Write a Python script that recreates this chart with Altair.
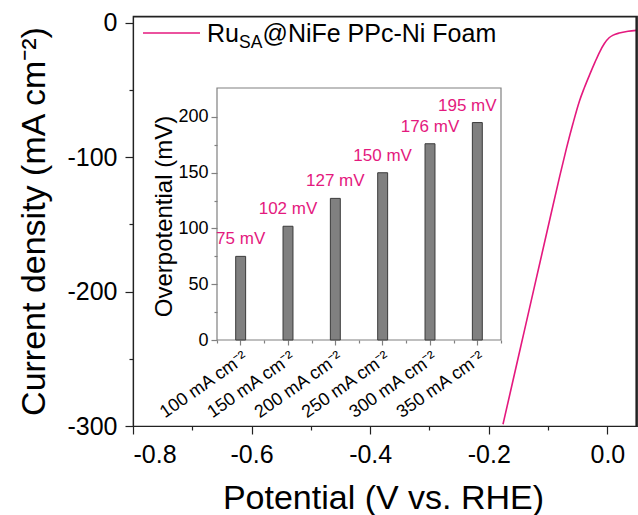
import altair as alt
import pandas as pd

FONT = "Liberation Sans"
PINK = "#E4197E"
DARK = "#222222"
GREY = "#808080"

# Polarisation curve (LSV) of the electrode
potential = [0.049, 0.035, 0.020, 0.010, 0.003, -0.005, -0.013, -0.021, -0.030,
             -0.039, -0.047, -0.058, -0.069, -0.080, -0.100, -0.120, -0.140,
             -0.160, -0.176]
current = [-5.7, -6.4, -7.7, -9.2, -11.2, -15.5, -21.8, -29.5, -38.8,
           -48.6, -58.2, -75.0, -93.5, -113.6, -152.0, -190.6, -229.2,
           -267.8, -298.7]

# Inset: overpotential needed at each current density
densities = ["100 mA cm⁻²", "150 mA cm⁻²", "200 mA cm⁻²",
             "250 mA cm⁻²", "300 mA cm⁻²", "350 mA cm⁻²"]
overpotentials = [75, 102, 127, 150, 176, 195]

curve_df = pd.DataFrame({"V": potential, "J": current})
bar_df = pd.DataFrame({"density": densities, "eta": overpotentials,
                       "idx": list(range(len(densities)))})
one = alt.Data(values=[{}])

# ---- main axes -------------------------------------------------------------
x_main = alt.Scale(domain=[-0.8, 0.05], nice=False, zero=False)
y_main = alt.Scale(domain=[-300, 5], nice=False, zero=False)

line = alt.Chart(curve_df).mark_line(
    color=PINK, strokeWidth=1.6, interpolate="monotone"
).encode(
    x=alt.X("V:Q", scale=x_main, axis=alt.Axis(
        orient="bottom", values=[-0.8, -0.6, -0.4, -0.2, 0.0],
        labelExpr="datum.value == 0 ? '0.0' : '' + datum.value",
        tickSize=8, labelFontSize=25, labelPadding=8, grid=False,
        domainColor=DARK, tickColor=DARK,
        title="Potential (V vs. RHE)", titleFontSize=34,
        titleX=250, titleY=82, titleBaseline="alphabetic")),
    y=alt.Y("J:Q", scale=y_main, axis=alt.Axis(
        orient="left", values=[0, -100, -200, -300],
        labelExpr="'' + datum.value",
        tickSize=8, labelFontSize=25, labelPadding=8, grid=False,
        domainColor=DARK, tickColor=DARK,
        title="Current density (mA cm⁻²)", titleFontSize=34,
        titleAngle=270, titleX=-89, titleY=205, titleBaseline="alphabetic")),
)

minor_main = alt.Chart(curve_df).mark_line(opacity=0).encode(
    x=alt.X("V:Q", scale=x_main, axis=alt.Axis(
        orient="bottom", values=[-0.7, -0.5, -0.3, -0.1], tickSize=4,
        labels=False, domain=False, grid=False, tickColor=DARK, title=None)),
    y=alt.Y("J:Q", scale=y_main, axis=alt.Axis(
        orient="left", values=[-50, -150, -250], tickSize=4,
        labels=False, domain=False, grid=False, tickColor=DARK, title=None)),
)

# top and right edges of the plot box
top_edge = alt.Chart(one).mark_rule(color=DARK, strokeWidth=1.6).encode(
    x=alt.value(0), x2=alt.value(504), y=alt.value(0.8))
right_edge = alt.Chart(one).mark_rule(color=DARK, strokeWidth=1.6).encode(
    x=alt.value(503.2), y=alt.value(0), y2=alt.value(410))

# ---- inset bar chart -------------------------------------------------------
x_in = alt.Scale(domain=densities, range=[84, 368],
                 paddingInner=0.79, paddingOuter=0.395)
y_in = alt.Scale(domain=[0, 226], range=[324, 72], nice=False)

frame = alt.Chart(one).mark_rect(
    fill="transparent", stroke=GREY, strokeWidth=1.2
).encode(x=alt.value(84), x2=alt.value(368), y=alt.value(72), y2=alt.value(324))

bars = alt.Chart(bar_df).mark_bar(
    fill=GREY, stroke="#3a3a3a", strokeWidth=1
).encode(
    x=alt.X("density:N", sort=densities, scale=x_in, axis=alt.Axis(
        orient="bottom", offset=-86, labelAngle=325, labelAlign="right",
        labelBaseline="top", labelFontSize=18, labelPadding=3, tickSize=5,
        tickColor=GREY, domain=False, grid=False, title=None)),
    y=alt.Y("eta:Q", scale=y_in, axis=alt.Axis(
        orient="left", offset=-84, values=[0, 50, 100, 150, 200], tickSize=6,
        labelFontSize=18, labelPadding=3, tickColor=GREY, domain=False,
        grid=False, title="Overpotential (mV)", titleFontSize=24,
        titleAngle=270, titleX=-46, titleY=200, titleBaseline="alphabetic")),
)


def value_labels(keep, shift):
    """Pink 'xx mV' captions above the bars."""
    return alt.Chart(bar_df).transform_filter(keep).transform_calculate(
        lbl="datum.eta + ' mV'"
    ).mark_text(
        baseline="bottom", dy=-8, dx=shift, fontSize=17, color=PINK, font=FONT
    ).encode(
        x=alt.X("density:N", sort=densities, scale=x_in, axis=None),
        y=alt.Y("eta:Q", scale=y_in, axis=None),
        text="lbl:N",
    )


# the last caption is nudged left so it stays inside the inset box
labels_main = value_labels("datum.idx < 5", 0)
labels_last = value_labels("datum.idx == 5", -10)

minor_inset = alt.Chart(bar_df).mark_point(opacity=0).encode(
    x=alt.X("idx:Q", scale=alt.Scale(domain=[-0.5, 5.5], range=[84, 368],
                                      nice=False, zero=False),
            axis=alt.Axis(orient="bottom", offset=-86,
                          values=[-0.5, 0.5, 1.5, 2.5, 3.5, 4.5, 5.5],
                          tickSize=3, labels=False, domain=False, grid=False,
                          tickColor=GREY, title=None)),
    y=alt.Y("eta:Q", scale=y_in, axis=alt.Axis(
        orient="left", offset=-84, values=[25, 75, 125, 175], tickSize=3,
        labels=False, domain=False, grid=False, tickColor=GREY, title=None)),
)

# ---- legend ----------------------------------------------------------------
legend_line = alt.Chart(one).mark_rule(color=PINK, strokeWidth=1.6).encode(
    x=alt.value(10), x2=alt.value(67), y=alt.value(17))
leg_ru = alt.Chart(one).mark_text(
    text="Ru", align="left", baseline="alphabetic", fontSize=25, font=FONT,
    color="black").encode(x=alt.value(74), y=alt.value(26))
leg_sa = alt.Chart(one).mark_text(
    text="SA", align="left", baseline="alphabetic", fontSize=17.5, font=FONT,
    color="black").encode(x=alt.value(106), y=alt.value(32))
leg_rest = alt.Chart(one).mark_text(
    text="@NiFe PPc-Ni Foam", align="left", baseline="alphabetic",
    fontSize=25, font=FONT, color="black").encode(x=alt.value(129.5), y=alt.value(26))

chart = alt.layer(
    line, minor_main, frame, bars, labels_main, labels_last, minor_inset,
    legend_line, leg_ru, leg_sa, leg_rest, top_edge, right_edge,
).resolve_scale(
    x="independent", y="independent"
).resolve_axis(
    x="independent", y="independent"
).properties(
    width=504, height=410,
    autosize=alt.AutoSizeParams(type="none"),
    padding={"left": 133, "top": 16, "right": 1, "bottom": 89},
).configure_view(
    stroke=DARK, strokeWidth=1.2
).configure_axis(
    labelFont=FONT, titleFont=FONT, labelColor="black", titleColor="black",
    titleFontWeight="normal", tickWidth=1.2, domainWidth=1.2
)

chart.save("out.html", embed_options={"renderer": "svg", "actions": False})
